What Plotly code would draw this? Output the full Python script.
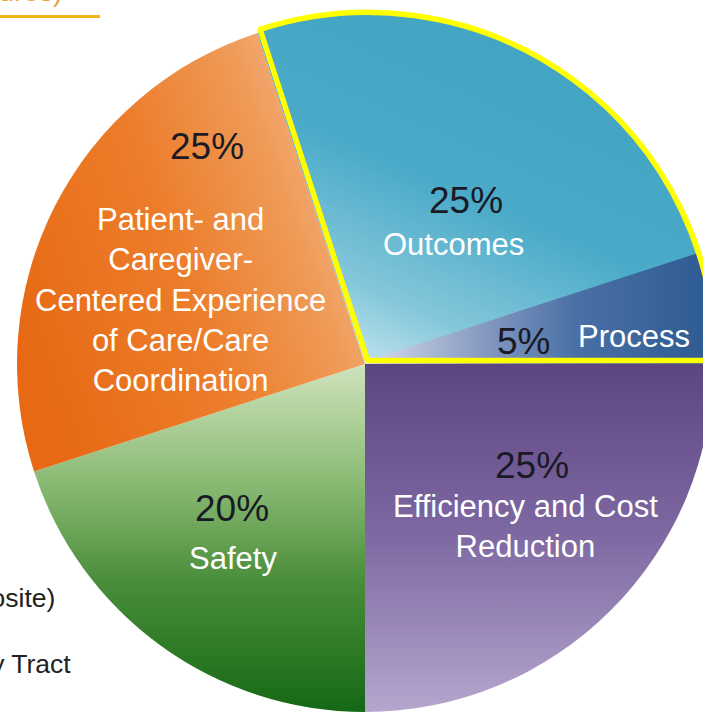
import json
import plotly.graph_objects as go

# ---------------- data ----------------
categories = [
    "Efficiency and Cost Reduction",
    "Safety",
    "Patient- and Caregiver-Centered Experience of Care/Care Coordination",
    "Outcomes",
    "Process",
]
weights = [25, 20, 25, 25, 5]
display_labels = [
    "Efficiency and Cost<br>Reduction",
    "Safety",
    "Patient- and<br>Caregiver-<br>Centered Experience<br>of Care/Care<br>Coordination",
    "Outcomes",
    "Process",
]
highlighted = ["Outcomes", "Process"]
side_labels = ["(Composite)", "Urinary Tract"]
heading_text = "Measures)"

# ---------------- styles ----------------
base_colors = {
    "Efficiency and Cost Reduction": "#7E66A0",
    "Safety": "#5E9E4E",
    "Patient- and Caregiver-Centered Experience of Care/Care Coordination": "#EE8638",
    "Outcomes": "#4EACC8",
    "Process": "#4A6FA5",
}
gradients = {
    "Efficiency and Cost Reduction": ([0, 0, 0, 1], [[0, "#5D4580"], [0.5, "#7F69A3"], [1, "#B5A6CE"]]),
    "Safety": ([0, 0, 0, 1], [[0, "#CFE3BC"], [0.35, "#88B972"], [0.62, "#4A8E3A"], [1, "#166816"]]),
    "Patient- and Caregiver-Centered Experience of Care/Care Coordination":
        ([0, 0.7, 1, 0.25], [[0, "#E76914"], [0.45, "#EC7D2B"], [0.75, "#EF9A56"], [1, "#F4BD98"]]),
    "Outcomes": ([0.7, 0, 0.15, 1], [[0, "#41A2C1"], [0.5, "#4AAAC8"], [0.8, "#84C7DA"], [1, "#C8E7F0"]]),
    "Process": ([0, 0, 1, 0], [[0, "#D6DCEA"], [0.35, "#8196BF"], [0.6, "#4A70A5"], [1, "#2C5A92"]]),
}

W, H = 720, 715
CX, CY, R = 365, 364, 348
PULL_DX, PULL_DY = 2.6, -3.6
FONT = "Liberation Sans, Arial, sans-serif"
PCT_SIZE, NAME_SIZE, SIDE_SIZE = 37, 31, 26.5


def px(x, y):
    return x / W, 1 - y / H


def hex_key(h):
    h = h.lstrip("#")
    return ",".join(str(int(h[i:i + 2], 16)) for i in (0, 2, 4))


dom_x = [(CX - R) / W, (CX + R) / W]
dom_y = [1 - (CY + R) / H, 1 - (CY - R) / H]
dom_x2 = [d + PULL_DX / W for d in dom_x]
dom_y2 = [d - PULL_DY / H for d in dom_y]

colors = [base_colors[c] for c in categories]
clear = "rgba(0,0,0,0)"

fig = go.Figure()
# full pie
fig.add_trace(go.Pie(
    labels=categories, values=weights, sort=False, direction="clockwise", rotation=90,
    marker=dict(colors=colors, line=dict(width=0)),
    textinfo="none", hoverinfo="skip", domain=dict(x=dom_x, y=dom_y), showlegend=False,
))
# highlighted (slightly pulled) slices
hl_vals = [weights[categories.index(c)] for c in highlighted]
rest = sum(weights) - sum(hl_vals)
start_angle = 90 + 360 * sum(weights[:categories.index(highlighted[0])]) / sum(weights)
fig.add_trace(go.Pie(
    labels=highlighted + ["rest"], values=hl_vals + [rest], sort=False,
    direction="clockwise", rotation=start_angle - 360,
    marker=dict(colors=[base_colors[c] for c in highlighted] + [clear], line=dict(width=0)),
    textinfo="none", hoverinfo="skip", domain=dict(x=dom_x2, y=dom_y2), showlegend=False,
))
# yellow outline around highlighted group
fig.add_trace(go.Pie(
    labels=["group", "rest"], values=[sum(hl_vals), rest], sort=False,
    direction="clockwise", rotation=start_angle - 360,
    marker=dict(colors=[clear, clear], line=dict(color=["#FFFF00", clear], width=[5.5, 0])),
    textinfo="none", hoverinfo="skip", domain=dict(x=dom_x2, y=dom_y2), showlegend=False,
))

annotations = []


def ann(text, x, y, size, color, xanchor="center"):
    ax, ay = px(x, y)
    annotations.append(dict(
        text=text, x=ax, y=ay, xref="paper", yref="paper", showarrow=False,
        xanchor=xanchor, yanchor="middle", align="center",
        font=dict(family=FONT, size=size, color=color),
    ))


# label positions (pixel centres)
pct_pos = {
    "Efficiency and Cost Reduction": (532, 465),
    "Safety": (232, 508),
    "Patient- and Caregiver-Centered Experience of Care/Care Coordination": (207, 147),
    "Outcomes": (466, 200),
    "Process": (523, 341),
}
name_pos = {
    "Efficiency and Cost Reduction": (525, 526),
    "Safety": (233, 558),
    "Patient- and Caregiver-Centered Experience of Care/Care Coordination": (180, 300),
    "Outcomes": (453, 244),
    "Process": (634, 336),
}
for cat, v, lab in zip(categories, weights, display_labels):
    ann(f"{v}%", *pct_pos[cat], PCT_SIZE, "#1A1A26")
    ann(lab, *name_pos[cat], NAME_SIZE, "#FFFFFF")

ann(side_labels[0], 57, 598, SIDE_SIZE, "#222222", xanchor="right")
ann(side_labels[1], 73, 664, SIDE_SIZE, "#222222", xanchor="right")
ann(heading_text, 64, -9, 28, "#E9A23B", xanchor="right")

fig.update_layout(
    width=W, height=H, autosize=False,
    margin=dict(l=0, r=0, t=0, b=0, pad=0),
    paper_bgcolor="white", plot_bgcolor="white",
    showlegend=False, annotations=annotations,
    shapes=[dict(type="line", xref="paper", yref="paper",
                 x0=px(0, 16.5)[0], y0=px(0, 16.5)[1], x1=px(100, 16.5)[0], y1=px(100, 16.5)[1],
                 line=dict(color="#F5B41A", width=3))],
)

grad_spec = {}
for i, (cat, (vec, stops)) in enumerate(gradients.items()):
    grad_spec[hex_key(base_colors[cat])] = {"id": f"gr{i}", "v": vec, "stops": stops}

post = """
(function(){
var gd=document.getElementById('{plot_id}');
document.documentElement.style.overflow='hidden';
document.body.style.overflow='hidden';
document.body.style.margin='0';
var G=__G__;
var svg=gd.querySelector('svg.main-svg'); if(!svg) return;
var ns='http://www.w3.org/2000/svg';
var defs=document.createElementNS(ns,'defs');
svg.insertBefore(defs,svg.firstChild);
for(var k in G){
  var s=G[k]; var g=document.createElementNS(ns,'linearGradient');
  g.setAttribute('id',s.id);
  g.setAttribute('x1',s.v[0]); g.setAttribute('y1',s.v[1]);
  g.setAttribute('x2',s.v[2]); g.setAttribute('y2',s.v[3]);
  s.stops.forEach(function(st){var e=document.createElementNS(ns,'stop');
    e.setAttribute('offset',st[0]); e.setAttribute('stop-color',st[1]); g.appendChild(e);});
  defs.appendChild(g);
}
gd.querySelectorAll('.pielayer path.surface').forEach(function(p){
  var f=(p.style.fill||'').replace(/[^0-9,]/g,'');
  if(G[f]) p.style.fill='url(#'+G[f].id+')';
});
})();
""".replace("__G__", json.dumps(grad_spec))

fig.write_html("out.html", post_script=post)
